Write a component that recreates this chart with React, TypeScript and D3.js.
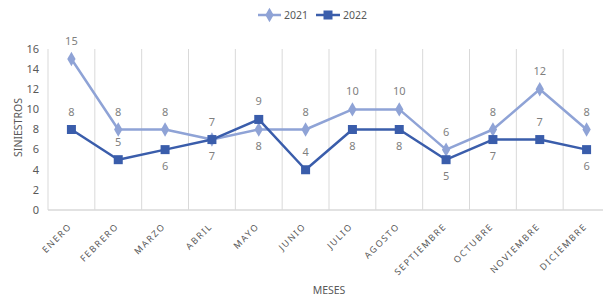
import React from 'react'
import * as d3 from 'd3'

const months = ['ENERO', 'FEBRERO', 'MARZO', 'ABRIL', 'MAYO', 'JUNIO', 'JULIO', 'AGOSTO', 'SEPTIEMBRE', 'OCTUBRE', 'NOVIEMBRE', 'DICIEMBRE']
const values2021 = [15, 8, 8, 7, 8, 8, 10, 10, 6, 8, 12, 8]
const values2022 = [8, 5, 6, 7, 9, 4, 8, 8, 5, 7, 7, 6]
// where excel put the labels
const labelPos2021 = ['up', 'up', 'up', 'up', 'down', 'up', 'up', 'up', 'up', 'up', 'up', 'up']
const labelPos2022 = ['up', 'up', 'down', 'down', 'up', 'up', 'down', 'down', 'down', 'down', 'up', 'down']
const yTicks = [0, 2, 4, 6, 8, 10, 12, 14, 16]

const c2021 = '#8FA3D6'
const c2022 = '#3A5DAB'
const txt = '#595959'
const font = 'Noto Sans, sans-serif'

export default function App() {
  const margin = {left: 48, top: 49}
  const plotW = 562
  const plotH = 161

  const x = d3.scaleBand<string>().domain(months).range([margin.left, margin.left + plotW])
  const y = d3.scaleLinear().domain([0, 16]).range([margin.top + plotH, margin.top])
  const cx = (m: string) => (x(m) as number) + x.bandwidth() / 2

  const line = d3.line<number>()
    .x((d, i) => cx(months[i]))
    .y(d => y(d))

  const diamond = d3.symbol().type(d3.symbolDiamond).size(60)

  const series = [
    {name: '2021', vals: values2021, color: c2021, pos: labelPos2021},
    {name: '2022', vals: values2022, color: c2022, pos: labelPos2022},
  ]

  return (
    <svg width={603} height={301} style={{position: 'absolute', left: 0, top: 0, background: '#fff'}}>
      {/* gridlines (vertical) */}
      {months.map((m, i) => (
        i > 0 ? <line key={m} x1={x(m)} x2={x(m)} y1={margin.top} y2={margin.top + plotH} stroke="#D9D9D9" strokeWidth={1} /> : null
      ))}
      <line x1={margin.left} x2={margin.left} y1={margin.top} y2={margin.top + plotH} stroke="#D9D9D9" />
      <line x1={margin.left} x2={margin.left + plotW} y1={y(0)} y2={y(0)} stroke="#D9D9D9" strokeWidth={1.5} />

      {yTicks.map(t => (
        <text key={t} x={39} y={y(t)} dy="0.35em" textAnchor="end" fontSize={11} fill={txt} fontFamily={font}>{t}</text>
      ))}

      <text transform={`translate(22,${margin.top + plotH / 2 - 2}) rotate(-90)`} textAnchor="middle" fontSize={10.5} fill={txt} fontFamily={font}>SINIESTROS</text>

      {months.map(m => (
        <text key={m} transform={`translate(${cx(m) + 1},${y(0) + 17}) rotate(-45)`} textAnchor="end" fontSize={9} letterSpacing={1.6} fill={txt} fontFamily={font}>{m}</text>
      ))}

      <text x={329} y={294} textAnchor="middle" fontSize={10.5} fill={txt} fontFamily={font}>MESES</text>

      {series.map(s => (
        <g key={s.name}>
          <path d={line(s.vals) as string} fill="none" stroke={s.color} strokeWidth={2.5} strokeLinejoin="round" />
          {s.vals.map((v, i) => s.name === '2021'
            ? <path key={i} d={diamond() as string} transform={`translate(${cx(months[i])},${y(v)})`} fill={s.color} />
            : <rect key={i} x={cx(months[i]) - 4.5} y={y(v) - 4.5} width={9} height={9} fill={s.color} />
          )}
          {s.vals.map((v, i) => (
            <text key={'l' + i} x={cx(months[i])} y={s.pos[i] === 'up' ? y(v) - 14 : y(v) + 20} textAnchor="middle" fontSize={11} fill="#7F7F7F" fontFamily={font}>{v}</text>
          ))}
        </g>
      ))}

      {/* legend */}
      <g>
        <line x1={258} x2={281} y1={15} y2={15} stroke={c2021} strokeWidth={2.5} />
        <path d={diamond() as string} transform="translate(269.5,15)" fill={c2021} />
        <text x={284} y={15} dy="0.35em" fontSize={10.5} fill={txt} fontFamily={font}>2021</text>
        <line x1={316} x2={340} y1={15} y2={15} stroke={c2022} strokeWidth={2.5} />
        <rect x={323.5} y={10.5} width={9} height={9} fill={c2022} />
        <text x={343} y={15} dy="0.35em" fontSize={10.5} fill={txt} fontFamily={font}>2022</text>
      </g>
    </svg>
  )
}
